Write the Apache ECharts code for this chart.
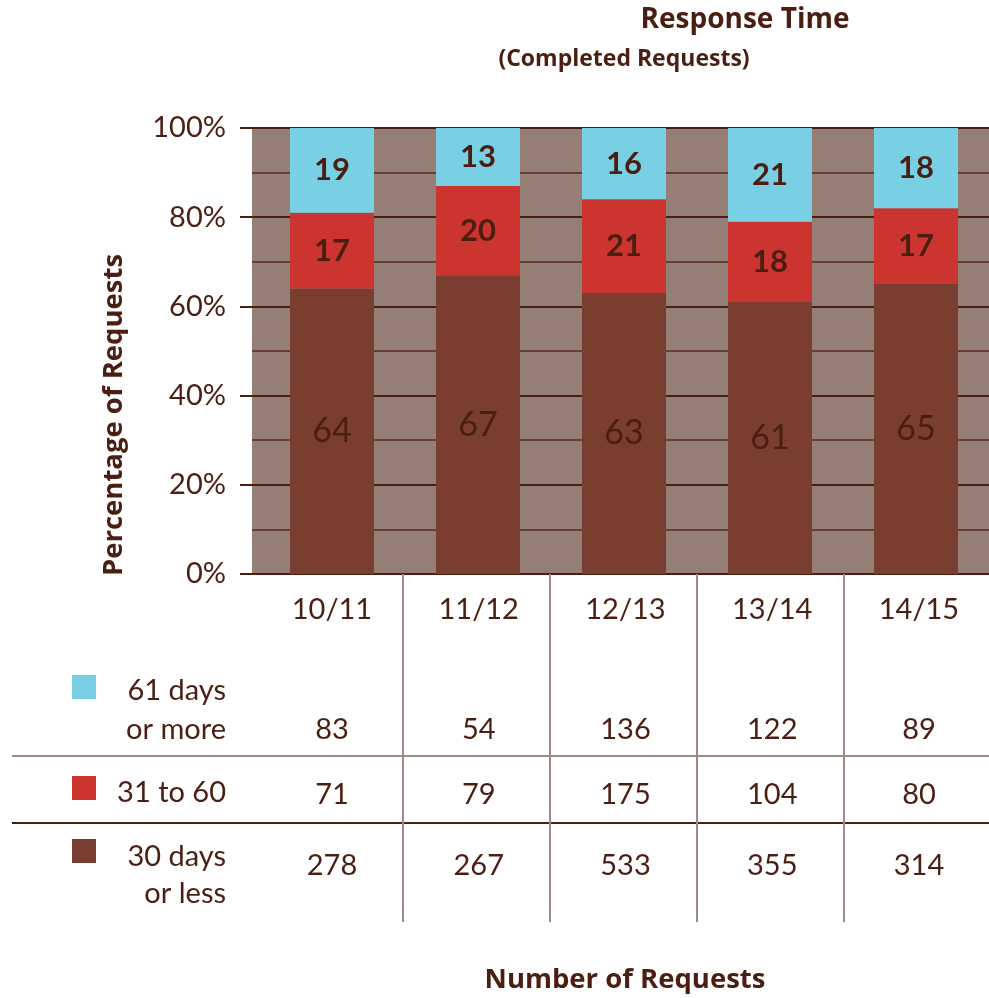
<!DOCTYPE html>
<html><head><meta charset="utf-8">
<script src="https://cdn.jsdelivr.net/npm/echarts@6/dist/echarts.min.js"></script>
<style>html,body{margin:0;padding:0;background:#fff}#c{width:989px;height:998px}</style>
</head><body><div id="c"></div>
<script>
const categories = ['10/11', '11/12', '12/13', '13/14', '14/15'];
const pct30orLess = [64, 67, 63, 61, 65];
const pct31to60 = [17, 20, 21, 18, 17];
const pct61plus = [19, 13, 16, 21, 18];
const count61plus = [83, 54, 136, 122, 89];
const count31to60 = [71, 79, 175, 104, 80];
const count30orLess = [278, 267, 533, 355, 314];
const yTicks = [0, 20, 40, 60, 80, 100];

const DARK = '#4A1E10';
const C_CYAN = '#79D0E4', C_RED = '#CC352F', C_BROWN = '#7A3E30';
const NUMFONT = 'Lato';

const chart = echarts.init(document.getElementById('c'));

function barSeries(name, vals, color, lblStyle) {
  return {
    name, type: 'bar', stack: 'pct', xAxisIndex: 1, yAxisIndex: 1,
    barWidth: 84, itemStyle: { color },
    data: vals,
    label: Object.assign({ show: true, position: 'inside', color: DARK, fontFamily: NUMFONT }, lblStyle)
  };
}
function rowSeries(vals, rowY, fontSize) {
  return {
    type: 'scatter', xAxisIndex: 2, yAxisIndex: 2, symbolSize: 0, silent: true,
    itemStyle: { opacity: 1 },
    data: vals.map((v, i) => ({ value: [i, rowY], name: String(v) })),
    label: { show: true, position: 'inside', formatter: p => p.name, color: DARK,
      fontFamily: NUMFONT, fontSize: fontSize }
  };
}

const option = {
  animation: false,
  backgroundColor: '#fff',
  grid: [
    { left: 252, right: 0, top: 128, bottom: 424, show: true, backgroundColor: '#957E75', borderWidth: 0 },
    { left: 259, right: -3, top: 128, bottom: 424 },
    { left: 252, right: 0, top: 574, bottom: 0 }
  ],
  xAxis: [
    { gridIndex: 0, type: 'value', min: 0, max: 1,
      axisLine: { show: true, onZero: false, lineStyle: { color: DARK, width: 2 } },
      axisTick: { show: false }, axisLabel: { show: false }, splitLine: { show: false } },
    { gridIndex: 1, type: 'category', data: categories, show: false },
    { gridIndex: 2, type: 'value', min: -0.545, max: 4.477, show: false }
  ],
  yAxis: [
    { gridIndex: 0, type: 'value', min: 0, max: 100, interval: 20,
      axisLine: { show: false },
      axisTick: { show: true, length: 12, lineStyle: { color: DARK, width: 2 } },
      axisLabel: { margin: 26, color: DARK, fontFamily: NUMFONT, fontSize: 29,
        formatter: v => yTicks.includes(v) ? v + '%' : '' },
      splitLine: { show: true, lineStyle: { color: DARK, width: 2 } },
      minorTick: { show: false, splitNumber: 2 },
      minorSplitLine: { show: true, lineStyle: { color: '#5a2a1a', width: 1.5 } } },
    { gridIndex: 1, type: 'value', min: 0, max: 100, show: false },
    { gridIndex: 2, type: 'value', min: 0, max: 424, inverse: true, show: false }
  ],
  series: [
    barSeries('30 days or less', pct30orLess, C_BROWN, { fontSize: 34 }),
    barSeries('31 to 60', pct31to60, C_RED, { fontSize: 31, fontWeight: 'bold' }),
    barSeries('61 days or more', pct61plus, C_CYAN, { fontSize: 31, fontWeight: 'bold' }),
    Object.assign(rowSeries(categories, 36, 29), {
      markLine: { silent: true, symbol: 'none', label: { show: false },
        lineStyle: { color: '#9E8A82', width: 2, type: 'solid' },
        data: categories.slice(1).map((c, i) => [{ coord: [i + 0.485, 0] }, { coord: [i + 0.485, 348] }]) }
    }),
    rowSeries(count61plus, 156, 29),
    rowSeries(count31to60, 221, 29),
    rowSeries(count30orLess, 292, 29)
  ],
  graphic: [
    { type: 'text', position: [745, 20], style: { text: 'Response Time', textAlign: 'center', textVerticalAlign: 'middle', font: 'bold 28px "Open Sans"', fill: DARK } },
    { type: 'text', position: [624, 59], style: { text: '(Completed Requests)', textAlign: 'center', textVerticalAlign: 'middle', font: 'bold 23px "Open Sans"', fill: DARK } },
    { type: 'text', position: [625, 980], style: { text: 'Number of Requests', textAlign: 'center', textVerticalAlign: 'middle', font: 'bold 27.5px "Open Sans"', fill: DARK } },
    { type: 'text', position: [114, 415], rotation: Math.PI / 2, style: { text: 'Percentage of Requests', textAlign: 'center', textVerticalAlign: 'middle', font: 'bold 27.5px "Open Sans"', fill: DARK } },
    { type: 'line', shape: { x1: 12, y1: 756, x2: 989, y2: 756 }, style: { stroke: '#9E8A82', lineWidth: 2 } },
    { type: 'line', shape: { x1: 12, y1: 823, x2: 989, y2: 823 }, style: { stroke: DARK, lineWidth: 2 } },
    { type: 'rect', shape: { x: 72, y: 675, width: 24, height: 24 }, style: { fill: C_CYAN } },
    { type: 'rect', shape: { x: 72, y: 776, width: 24, height: 24 }, style: { fill: C_RED } },
    { type: 'rect', shape: { x: 72, y: 839, width: 24, height: 24 }, style: { fill: C_BROWN } },
    { type: 'text', position: [226, 710], style: { text: '61 days\nor more', textAlign: 'right', textVerticalAlign: 'middle', font: '29px Lato', lineHeight: 39, fill: DARK } },
    { type: 'text', position: [226, 793], style: { text: '31 to 60', textAlign: 'right', textVerticalAlign: 'middle', font: '29px Lato', fill: DARK } },
    { type: 'text', position: [226, 875], style: { text: '30 days\nor less', textAlign: 'right', textVerticalAlign: 'middle', font: '29px Lato', lineHeight: 37, fill: DARK } }
  ]
};
chart.setOption(option);
</script></body></html>
